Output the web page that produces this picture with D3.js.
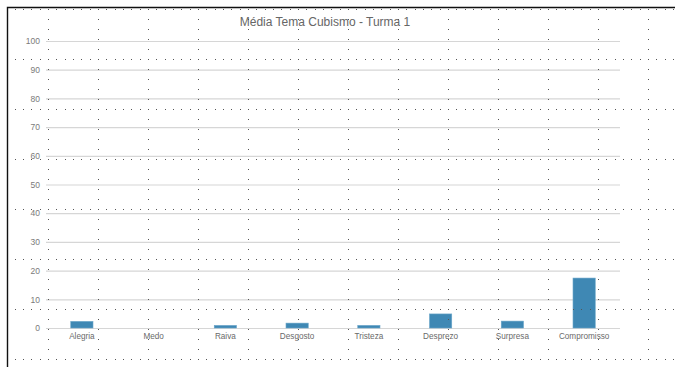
<!DOCTYPE html>
<html>
<head>
<meta charset="utf-8">
<script src="https://cdn.jsdelivr.net/npm/d3@7"></script>
<style>
  html, body { margin: 0; padding: 0; background: #fff; }
  svg { display: block; }
</style>
</head>
<body>
<svg id="chart" width="675" height="367"></svg>
<script>
// Average score per emotion, theme "Cubismo", class 1
const categories = ["Alegria", "Medo", "Raiva", "Desgosto", "Tristeza", "Desprezo", "Surpresa", "Compromisso"];
const values = [2.3, 0, 0.9, 1.7, 0.9, 4.9, 2.4, 17.4];
const yTicks = [0, 10, 20, 30, 40, 50, 60, 70, 80, 90, 100];
const title = "Média Tema Cubismo - Turma 1";

const W = 675, H = 367;
const plot = { left: 46, right: 620, top: 41, bottom: 328 };

const svg = d3.select("#chart");
const font = "'Liberation Sans', Arial, sans-serif";

const x = d3.scaleBand()
  .domain(categories)
  .range([plot.left, plot.right])
  .paddingInner(0.69)
  .paddingOuter(0.345);

const y = d3.scaleLinear()
  .domain([0, 100])
  .range([plot.bottom, plot.top]);

// horizontal gridlines
const grid = svg.append("g")
  .attr("transform", `translate(${plot.left},0)`)
  .call(d3.axisLeft(y).tickValues(yTicks).tickSize(-(plot.right - plot.left)).tickFormat(""));
grid.select(".domain").remove();
grid.selectAll(".tick line").attr("stroke", "#d6d6d6").attr("stroke-width", 1.2);

// y tick labels
const yAxis = svg.append("g")
  .attr("transform", `translate(${plot.left - 6},0)`)
  .call(d3.axisLeft(y).tickValues(yTicks).tickSize(0).tickPadding(0));
yAxis.select(".domain").remove();
yAxis.selectAll("text")
  .attr("font-family", font)
  .attr("font-size", 8.5)
  .attr("fill", "#7a7a7a");

// bars
svg.append("g").selectAll("rect")
  .data(categories.map((c, i) => ({ c, v: values[i] })))
  .join("rect")
  .attr("x", d => x(d.c))
  .attr("y", d => y(d.v))
  .attr("width", x.bandwidth())
  .attr("height", d => y(0) - y(d.v))
  .attr("fill", "#3f88b4")
  .attr("stroke", "#6aa5c9")
  .attr("stroke-width", 0.6);

// category labels
const xAxis = svg.append("g")
  .attr("transform", `translate(0,${plot.bottom + 5})`)
  .call(d3.axisBottom(x).tickSize(0).tickPadding(0));
xAxis.select(".domain").remove();
xAxis.selectAll("text")
  .attr("font-family", font)
  .attr("font-size", 8.2)
  .attr("fill", "#6a6a6a");

// title
svg.append("text")
  .attr("x", 325)
  .attr("y", 26)
  .attr("text-anchor", "middle")
  .attr("font-family", font)
  .attr("font-size", 12)
  .attr("fill", "#666")
  .text(title);

// sheet dotted page grid, drawn over the chart
const dots = [];
const rowYs = d3.range(9, H, 50);
const colXs = d3.range(48, W, 50);
rowYs.forEach(ry => {
  d3.range(14.7, W, 50 / 6).forEach(dx => dots.push([dx, ry]));
});
colXs.forEach(cx => {
  d3.range(9, H, 10).forEach(dy => {
    if (!rowYs.includes(dy)) dots.push([cx, dy]);
  });
});
svg.append("g").selectAll("rect")
  .data(dots)
  .join("rect")
  .attr("x", d => Math.round(d[0]))
  .attr("y", d => d[1])
  .attr("width", 1)
  .attr("height", 1)
  .attr("fill", "#555");

// sheet border (top and left)
svg.append("path")
  .attr("d", `M7.5,${H} V7.5 H${W}`)
  .attr("fill", "none")
  .attr("stroke", "#111")
  .attr("stroke-width", 1.4);
</script>
</body>
</html>
